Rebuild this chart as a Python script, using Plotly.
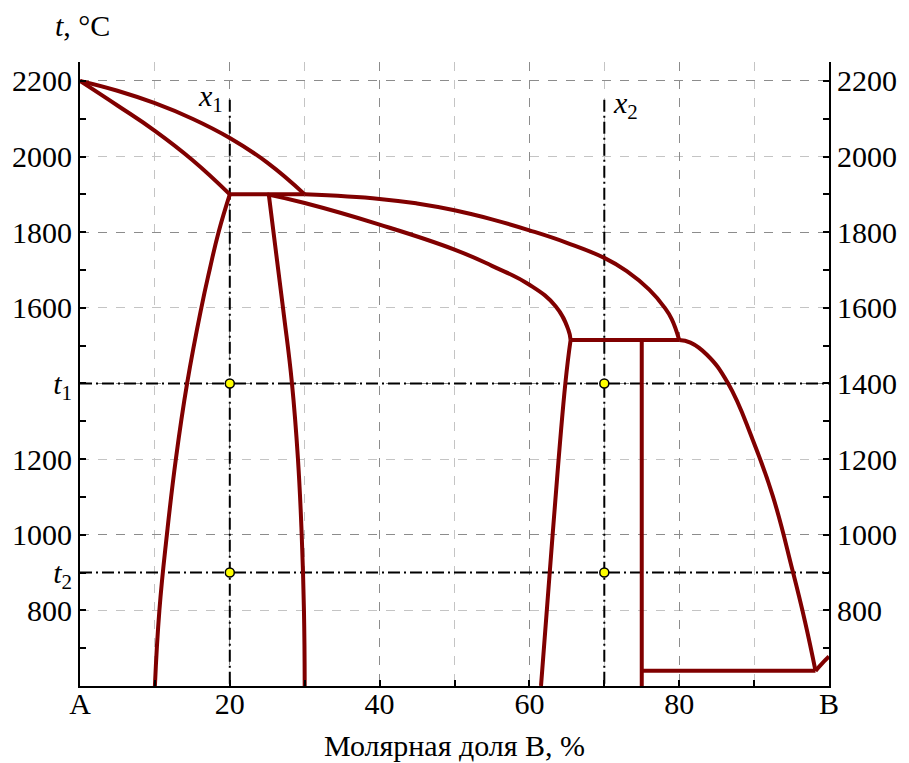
import plotly.graph_objects as go

# ---- data (mole fraction of B, %, and temperature, °C) ----
alpha_liq_x = [0, 5, 10, 15, 20, 25, 30]
alpha_liq_t = [2200, 2174, 2141, 2100, 2049, 1984, 1900]

alpha_sol_x = [0, 5, 10, 15, 20]
alpha_sol_t = [2200, 2135, 2068, 1991, 1900]

perit1_x = [20, 30]
perit1_t = [1900, 1900]

alpha_solvus_x = [20, 18.5, 17.3, 16.2, 14.3, 12.8, 11.6, 10.6, 10.0]
alpha_solvus_t = [1900, 1800, 1700, 1600, 1400, 1200, 1000, 800, 600]

beta_left_x = [25.2, 27.1, 28.3, 29.1, 29.6, 29.9, 30.0]
beta_left_t = [1900, 1600, 1400, 1200, 1000, 800, 600]

beta_sol_x = [25, 30, 40, 50, 55, 60, 63.5, 65.2, 65.5]
beta_sol_t = [1900, 1877, 1820, 1754, 1711, 1661, 1604, 1542, 1515]

beta_liq_x = [30, 40, 45, 50, 55, 60, 65, 70, 73, 76, 78, 79, 80]
beta_liq_t = [1900, 1888, 1876, 1858, 1834, 1805, 1772, 1732, 1697, 1648, 1602, 1570, 1515]

perit2_x = [65.5, 80]
perit2_t = [1515, 1515]

beta_right_x = [65.5, 64.8, 63.1, 61.55]
beta_right_t = [1515, 1400, 1000, 600]

compound_x = [75, 75]
compound_t = [1515, 600]

gamma_x = [80, 81.5, 83.7, 86.5, 89.8, 92.5, 95.1, 96.8, 98.2]
gamma_t = [1515, 1508, 1476, 1401, 1252, 1102, 908, 770, 640]

eutectic_x = [75, 98.2]
eutectic_t = [640, 640]

b_liq_x = [98.2, 99.0, 100]
b_liq_t = [640, 658, 678]

x_marks = [20, 70]          # x1, x2
x_mark_top = 2150
t_marks = [1400, 900]       # t1, t2
dots_x = [20, 20, 70, 70]
dots_t = [1400, 900, 1400, 900]

x_tickvals = [0, 20, 40, 60, 80, 100]
x_ticktext = ["A", "20", "40", "60", "80", "B"]
x_minor = [10, 30, 50, 70, 90]

yl_tickvals = [800, 900, 1000, 1200, 1400, 1600, 1800, 2000, 2200]
yl_ticktext = ["800", "<i>t</i><sub>2</sub>", "1000", "1200", "<i>t</i><sub>1</sub>",
               "1600", "1800", "2000", "2200"]
yl_minor = [700, 1100, 1300, 1500, 1700, 1900, 2100]
yr_tickvals = [800, 1000, 1200, 1400, 1600, 1800, 2000, 2200]
yr_minor = [700, 900, 1100, 1300, 1500, 1700, 1900, 2100]
grid_dark = [1000, 1400, 1800, 2200]
grid_light = [800, 1200, 1600, 2000]

YR = [600, 2250]
RED = "#800000"
FONT = "Liberation Serif, Times New Roman, serif"

fig = go.Figure()

# dash-dot reference lines
for xv in x_marks:
    fig.add_trace(go.Scatter(x=[xv, xv], y=[x_mark_top, YR[0]], mode="lines",
                             line=dict(color="black", width=2, dash="12px,4px,2px,4px"),
                             hoverinfo="skip", showlegend=False))
for tv in t_marks:
    fig.add_trace(go.Scatter(x=[0, 100], y=[tv, tv], mode="lines",
                             line=dict(color="black", width=2, dash="12px,4px,2px,4px"),
                             hoverinfo="skip", showlegend=False))

curves = [
    (alpha_liq_x, alpha_liq_t, "spline"),
    (alpha_sol_x, alpha_sol_t, "spline"),
    (alpha_solvus_x, alpha_solvus_t, "spline"),
    (beta_left_x, beta_left_t, "spline"),
    (beta_sol_x, beta_sol_t, "spline"),
    (beta_liq_x, beta_liq_t, "spline"),
    (beta_right_x, beta_right_t, "spline"),
    (gamma_x, gamma_t, "spline"),
    (b_liq_x, b_liq_t, "spline"),
    (perit1_x, perit1_t, "linear"),
    (perit2_x, perit2_t, "linear"),
    (compound_x, compound_t, "linear"),
    (eutectic_x, eutectic_t, "linear"),
]
for cx, ct, shp in curves:
    fig.add_trace(go.Scatter(x=cx, y=ct, mode="lines",
                             line=dict(color=RED, width=4, shape=shp, smoothing=1.3),
                             hoverinfo="skip", showlegend=False))

fig.add_trace(go.Scatter(x=dots_x, y=dots_t, mode="markers",
                         marker=dict(color="#ffff00", size=9,
                                     line=dict(color="black", width=1.5)),
                         hoverinfo="skip", showlegend=False))

# helper traces for overlay axes
fig.add_trace(go.Scatter(x=[None], y=[None], yaxis="y2", showlegend=False, hoverinfo="skip"))
fig.add_trace(go.Scatter(x=[None], y=[None], yaxis="y3", showlegend=False, hoverinfo="skip"))

tickfont = dict(family=FONT, size=30, color="black")

fig.update_layout(
    width=909, height=763,
    margin=dict(l=79, r=72, t=62, b=77),
    plot_bgcolor="white", paper_bgcolor="white",
    showlegend=False,
    xaxis=dict(range=[0, 100], tickmode="array", tickvals=x_tickvals, ticktext=x_ticktext,
               ticks="inside", ticklen=6, tickwidth=1.5, tickcolor="black",
               showline=True, linecolor="black", linewidth=2,
               showgrid=True, gridcolor="#8c8c8c", griddash="dash", gridwidth=1,
               zeroline=False, tickfont=tickfont, ticklabelstandoff=-10,
               minor=dict(tickmode="array", tickvals=x_minor, ticks="inside", ticklen=6,
                          tickwidth=1.5, tickcolor="black", showgrid=True,
                          gridcolor="#c4c4c4", griddash="dash", gridwidth=1)),
    yaxis=dict(range=YR, tickmode="array", tickvals=yl_tickvals, ticktext=yl_ticktext,
               ticks="inside", ticklen=6, tickwidth=1.5, tickcolor="black",
               showline=True, linecolor="black", linewidth=2,
               showgrid=False, zeroline=False, tickfont=tickfont,
               minor=dict(tickmode="array", tickvals=yl_minor, ticks="inside", ticklen=6,
                          tickwidth=1.5, tickcolor="black", showgrid=False)),
    yaxis2=dict(range=YR, overlaying="y", side="right", anchor="x",
                tickmode="array", tickvals=yr_tickvals,
                ticks="inside", ticklen=6, tickwidth=1.5, tickcolor="black",
                showline=True, linecolor="black", linewidth=2,
                showgrid=False, zeroline=False, tickfont=tickfont,
                minor=dict(tickmode="array", tickvals=yr_minor, ticks="inside", ticklen=6,
                           tickwidth=1.5, tickcolor="black", showgrid=False)),
    yaxis3=dict(range=YR, overlaying="y", side="left", anchor="x",
                tickmode="array", tickvals=grid_dark, showticklabels=False, ticks="",
                showline=False, zeroline=False,
                showgrid=True, gridcolor="#8c8c8c", griddash="dash", gridwidth=1,
                minor=dict(tickmode="array", tickvals=grid_light, ticks="", showgrid=True,
                           gridcolor="#c4c4c4", griddash="dash", gridwidth=1)),
    annotations=[
        dict(text="<i>t</i>, °C", xref="paper", yref="paper", x=0.003, y=1.059,
             xanchor="center", yanchor="middle", showarrow=False,
             font=dict(family=FONT, size=30, color="black")),
        dict(text="Молярная доля B, %", xref="paper", yref="paper", x=0.5, y=-0.0946,
             xanchor="center", yanchor="middle", showarrow=False,
             font=dict(family=FONT, size=30, color="black")),
        dict(text="<i>x</i><sub>1</sub>", xref="x", yref="y", x=17.4, y=2155,
             xanchor="center", yanchor="middle", showarrow=False,
             font=dict(family=FONT, size=30, color="black")),
        dict(text="<i>x</i><sub>2</sub>", xref="x", yref="y", x=72.8, y=2137,
             xanchor="center", yanchor="middle", showarrow=False,
             font=dict(family=FONT, size=30, color="black")),
    ],
)

fig.write_html("out.html")
